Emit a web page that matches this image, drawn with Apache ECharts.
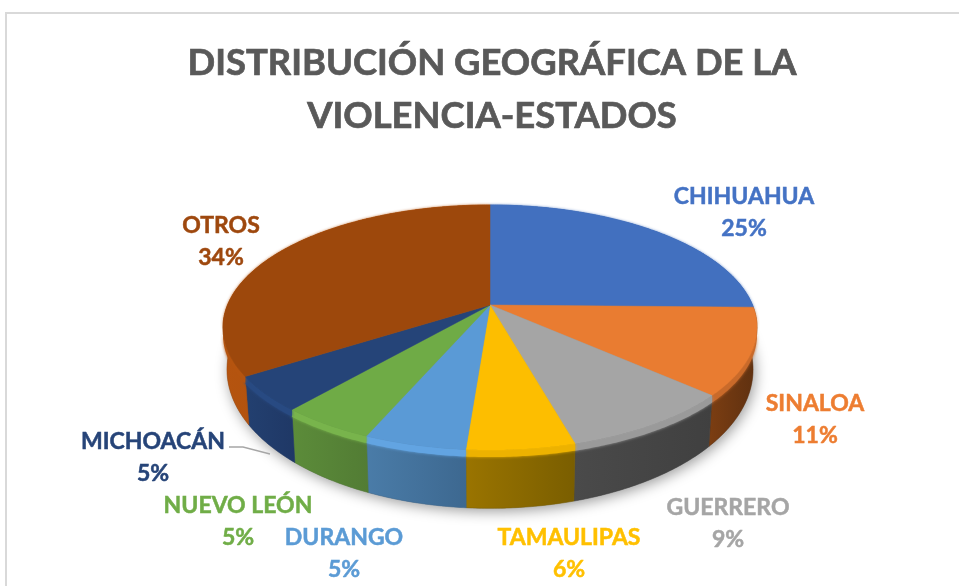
<!DOCTYPE html>
<html>
<head>
<meta charset="utf-8">
<style>html,body{margin:0;padding:0;background:#fff}#c{width:959px;height:586px}</style>
<script src="https://cdn.jsdelivr.net/npm/echarts@6/dist/echarts.min.js"></script>
</head>
<body>
<div id="c"></div>
<script>
// Data
const states = ["CHIHUAHUA","SINALOA","GUERRERO","TAMAULIPAS","DURANGO","NUEVO LEÓN","MICHOACÁN","OTROS"];
const shares = [25.3, 11.4, 9, 5.5, 5.2, 4.85, 4.6, 34.15];
const chartTitle = "DISTRIBUCIÓN GEOGRÁFICA DE LA\nVIOLENCIA-ESTADOS";

// Styles
const topColors  = ["#4270BF","#E97C31","#A5A5A5","#FDBE00","#5A9AD6","#6FAB46","#254478","#9D480C"];
const wallLeft   = ["#3A5F9E","#7C3E12","#4A4A4A","#9A7400","#4A7CA8","#5C8C3A","#234070","#B5540F"];
const wallRight  = ["#3A5F9E","#5E3010","#404040","#7A5E00","#3D6890","#527C34","#1F3866","#A34B0D"];
const bevelColors= ["#4270BF","#C96A2A","#9A9A9A","#EDB200","#62A4E2","#78B44C","#284A82","#B5540F"];
const labelColors= ["#4472C4","#ED7D31","#A5A5A5","#FFC000","#5B9BD5","#70AD47","#264478","#9E480E"];
// Label centres (layout only)
const labelCenters = [[744,213],[815,419.5],[728,524],[569,554],[344,554],[238,522],[153,458],[221,242]];

// Perspective disk projection
const disk = {cx:490, cy:305, a:262.5, b:118.4, k:0.1837};
function rimPoint(t){
  const w = 1 + disk.k*Math.cos(t);
  return [disk.cx + disk.a*Math.sin(t)/w, disk.cy - disk.b*Math.cos(t)/w];
}
function basePoint(t){
  const p = rimPoint(t);
  return [disk.cx + (p[0]-disk.cx)*0.985, disk.cy + 39 + (p[1]-disk.cy)*1.133];
}
function bevelPoint(t){
  const p = rimPoint(t);
  return [p[0], p[1] + 7];
}
const total = shares.reduce((s,v)=>s+v,0);
function sliceAngles(i){
  let before = 0;
  for(let j=0;j<i;j++) before += shares[j];
  return [before/total*2*Math.PI, (before+shares[i])/total*2*Math.PI];
}
function arc(fn,t0,t1){
  const n = Math.max(2,Math.ceil((t1-t0)/0.01)), pts=[];
  for(let s=0;s<=n;s++) pts.push(fn(t0+(t1-t0)*s/n));
  return pts;
}
const rows = states.map((n,i)=>({name:n,value:shares[i]}));

const chart = echarts.init(document.getElementById('c'),null,{renderer:'canvas'});
chart.setOption({
  animation:false,
  backgroundColor:'#fff',
  title:{
    text:chartTitle,left:487,top:32,textAlign:'center',
    textStyle:{fontFamily:'Lato',fontWeight:'bold',fontSize:36.4,lineHeight:53,color:'#595959',
      textBorderColor:'#595959',textBorderWidth:0.7}
  },
  graphic:[
    {type:'rect',silent:true,z:0,shape:{x:6,y:13,width:1000,height:700},style:{fill:'none',stroke:'#d9d9d9',lineWidth:2}},
    {type:'polyline',silent:true,z:10,shape:{points:[[229,447],[243,447],[270,454]]},style:{fill:'none',stroke:'#a6a6a6',lineWidth:1.3}}
  ],
  series:[
    { // soft shadow under the disk
      type:'custom',coordinateSystem:'none',silent:true,z:2,data:[[0]],
      renderItem(){
        return {type:'polygon',shape:{points:arc(basePoint,0,2*Math.PI)},
          style:{fill:'#888',shadowBlur:14,shadowColor:'rgba(0,0,0,0.4)',shadowOffsetX:2,shadowOffsetY:3}};
      }
    },
    { // side walls
      type:'custom',coordinateSystem:'none',silent:true,z:3,data:rows,
      renderItem(params){
        const i=params.dataIndex,[t0,t1]=sliceAngles(i);
        const pts=arc(rimPoint,t0,t1).concat(arc(basePoint,t0,t1).reverse());
        return {type:'polygon',shape:{points:pts},style:{
          fill:{type:'linear',x:0,y:0,x2:1,y2:0,colorStops:[{offset:0,color:wallLeft[i]},{offset:1,color:wallRight[i]}]},
          stroke:wallRight[i],lineWidth:0.5}};
      }
    },
    { // bevel band along the top of the walls
      type:'custom',coordinateSystem:'none',silent:true,z:4,data:rows,
      renderItem(params){
        const i=params.dataIndex,[t0,t1]=sliceAngles(i);
        return {type:'polygon',shape:{points:arc(rimPoint,t0,t1).concat(arc(bevelPoint,t0,t1).reverse())},
          style:{fill:bevelColors[i],shadowBlur:3,shadowColor:bevelColors[i]}};
      }
    },
    { // top faces
      type:'custom',coordinateSystem:'none',silent:true,z:5,data:rows,
      renderItem(params){
        const i=params.dataIndex,[t0,t1]=sliceAngles(i);
        return {type:'polygon',shape:{points:[[disk.cx,disk.cy]].concat(arc(rimPoint,t0,t1))},
          style:{fill:topColors[i],stroke:topColors[i],lineWidth:0.5}};
      }
    },
    { // labels
      type:'custom',coordinateSystem:'none',silent:true,z:6,data:rows,
      renderItem(params,api){
        const i=params.dataIndex;
        return {type:'text',style:{
          text:states[i]+'\n'+Math.round(api.value(0))+'%',
          x:labelCenters[i][0],y:labelCenters[i][1],
          align:'center',verticalAlign:'middle',
          fill:labelColors[i],stroke:labelColors[i],lineWidth:0.5,
          font:'bold 23px Lato',lineHeight:32}};
      }
    }
  ]
});
</script>
</body>
</html>
